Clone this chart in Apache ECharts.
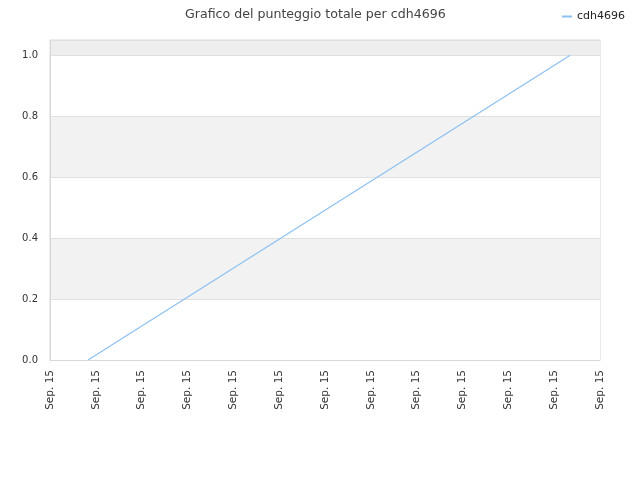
<!DOCTYPE html>
<html>
<head>
<meta charset="utf-8">
<script src="https://cdn.jsdelivr.net/npm/echarts@6/dist/echarts.min.js"></script>
<style>html,body{margin:0;padding:0;background:#fff;}#c{width:640px;height:480px;}</style>
</head>
<body>
<div id="c"></div>
<script>
const seriesName = 'cdh4696';
const xTickLabel = 'Sep. 15';
const xPositions = [0.83, 11.35];
const scores = [0, 1.0];

const chart = echarts.init(document.getElementById('c'), null, {renderer: 'canvas'});
chart.setOption({
  animation: false,
  backgroundColor: '#ffffff',
  title: {
    text: 'Grafico del punteggio totale per cdh4696',
    left: 180, top: 3,
    textStyle: {fontFamily: 'DejaVu Sans', fontSize: 12.6, fontWeight: 'normal', color: '#444'}
  },
  legend: {
    right: 10, top: 6,
    icon: 'rect', itemWidth: 10, itemHeight: 2, itemGap: 6,
    textStyle: {fontFamily: 'DejaVu Sans', fontSize: 11, color: '#222'},
    data: [seriesName]
  },
  grid: {left: 50, right: 40, top: 40, bottom: 120, show: true, borderColor: '#d8d8d8', borderWidth: 1},
  xAxis: {
    type: 'value', min: 0, max: 12, interval: 1,
    axisLine: {show: true, lineStyle: {color: '#d8d8d8'}},
    axisTick: {show: false},
    splitLine: {show: false},
    axisLabel: {
      rotate: 90, margin: 10, color: '#333', fontFamily: 'DejaVu Sans', fontSize: 10.5,
      formatter: function () { return xTickLabel; }
    }
  },
  yAxis: {
    type: 'value', min: 0, max: 1.05, interval: 0.2,
    axisLine: {show: true, lineStyle: {color: '#d8d8d8'}},
    axisTick: {show: false},
    splitLine: {show: true, lineStyle: {color: '#e0e0e0'}},
    splitArea: {show: true, areaStyle: {color: ['#ffffff', '#f2f2f2', '#ffffff', '#f2f2f2', '#ffffff', '#eeeeee']}},
    axisLabel: {
      color: '#333', fontFamily: 'DejaVu Sans', fontSize: 10, margin: 12,
      showMaxLabel: false,
      formatter: function (v) { return v > 1.001 ? '' : v.toFixed(1); }
    }
  },
  series: [{
    name: seriesName,
    type: 'line',
    data: xPositions.map((x, i) => [x, scores[i]]),
    symbol: 'none',
    lineStyle: {color: '#8cc0f2', width: 1.2},
    itemStyle: {color: '#8cc0f2'}
  }]
});
</script>
</body>
</html>
